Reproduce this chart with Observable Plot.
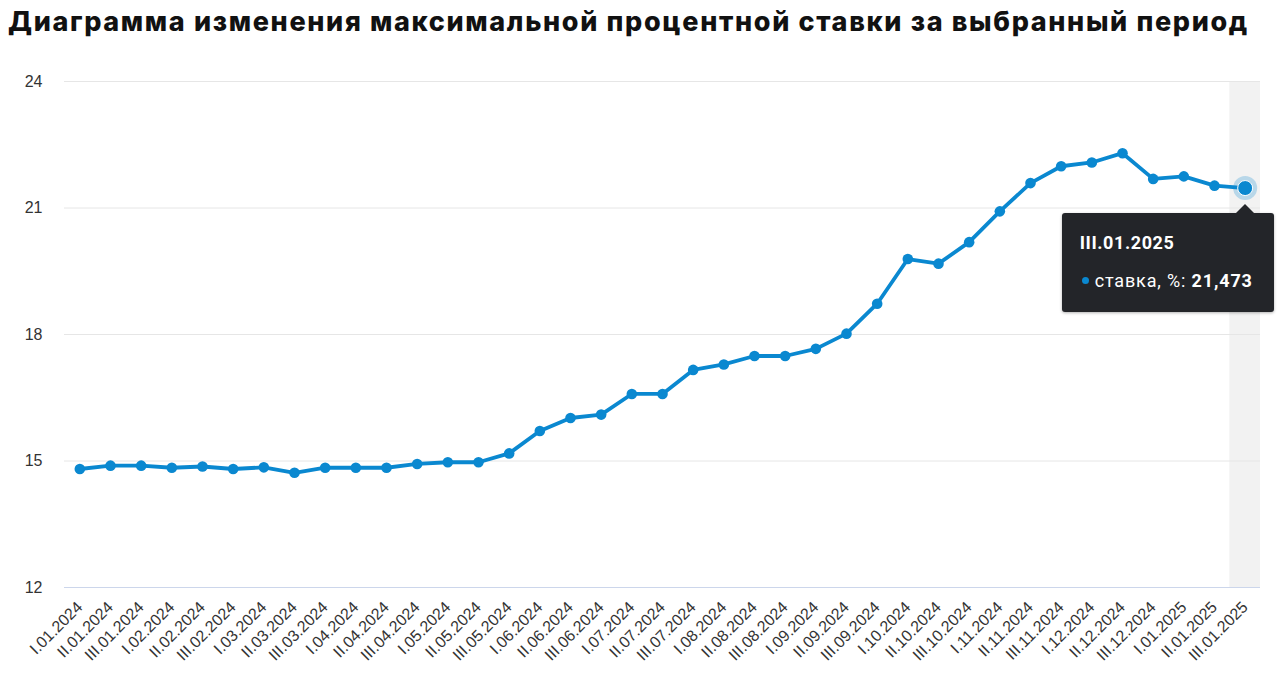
<!DOCTYPE html>
<html><head><meta charset="utf-8">
<script src="https://cdn.jsdelivr.net/npm/d3@7"></script>
<script src="https://cdn.jsdelivr.net/npm/@observablehq/plot@0.6"></script>
<style>
body{margin:0;background:#fff;font-family:"Liberation Sans",Arial,sans-serif;}
#title{height:45px;line-height:44px;padding-left:8px;font-family:Inter,Roboto,sans-serif;font-weight:800;font-size:27px;color:#111;white-space:nowrap;letter-spacing:1.65px}
#wrap{position:relative;width:1280px;height:645px}
#tip{position:absolute;width:212px;height:99px;background:#232529;border-radius:3px;color:#fff;font-family:Roboto,"Noto Sans",sans-serif;box-shadow:0 1px 3px rgba(0,0,0,0.3)}
#tip .arrow{position:absolute;top:-9px;width:0;height:0;border-left:9px solid transparent;border-right:9px solid transparent;border-bottom:9px solid #232529}
#tip .t1{position:absolute;left:18px;top:20px;font-size:18px;font-weight:700;line-height:20px;letter-spacing:0.6px}
#tip .t2{position:absolute;left:20px;top:58px;font-size:18px;line-height:20px;white-space:nowrap;letter-spacing:0.85px}
#tip .dot{display:inline-block;width:7px;height:7px;border-radius:50%;margin-right:6px;vertical-align:3px}
</style></head><body>
<div id="title">Диаграмма изменения максимальной процентной ставки за выбранный период</div>
<div id="wrap"></div>
<script>
const periods = [
  "I.01.2024","II.01.2024","III.01.2024","I.02.2024","II.02.2024","III.02.2024",
  "I.03.2024","II.03.2024","III.03.2024","I.04.2024","II.04.2024","III.04.2024",
  "I.05.2024","II.05.2024","III.05.2024","I.06.2024","II.06.2024","III.06.2024",
  "I.07.2024","II.07.2024","III.07.2024","I.08.2024","II.08.2024","III.08.2024",
  "I.09.2024","II.09.2024","III.09.2024","I.10.2024","II.10.2024","III.10.2024",
  "I.11.2024","II.11.2024","III.11.2024","I.12.2024","II.12.2024","III.12.2024",
  "I.01.2025","II.01.2025","III.01.2025"
];
const rates = [
  14.81,14.89,14.89,14.84,14.87,14.81,
  14.85,14.72,14.84,14.84,14.84,14.93,
  14.97,14.97,15.18,15.71,16.02,16.10,
  16.59,16.59,17.16,17.29,17.49,17.49,
  17.66,18.02,18.73,19.79,19.68,20.19,
  20.92,21.59,21.99,22.08,22.30,21.69,
  21.75,21.53,21.473
];
const yTicks = [12,15,18,21,24];
const seriesName = "ставка, %";
const blue = "#0a88d0";

const data = periods.map((p,i)=>({period:p, rate:rates[i]}));
const last = data[data.length-1];

const plot = Plot.plot({
  width:1280, height:645,
  marginLeft:64, marginRight:20, marginTop:36, marginBottom:103,
  x:{type:"band", domain:periods, padding:0, round:false, label:null},
  y:{domain:[yTicks[0], yTicks[yTicks.length-1]], label:null},
  style:{fontFamily:"'Liberation Sans',Arial,sans-serif", color:"#333", background:"transparent", overflow:"visible"},
  marks:[
    Plot.barY([last], {x:"period", y1:()=>yTicks[0], y2:()=>yTicks[yTicks.length-1], fill:"#f2f2f2"}),
    Plot.gridY(yTicks, {stroke:"#e6e6e6", strokeOpacity:1}),
    Plot.ruleY([yTicks[0]], {stroke:"#ccd6eb"}),
    Plot.axisY(yTicks, {tickSize:0, tickPadding:22, fontSize:16, label:null}),
    Plot.axisX({tickSize:0, tickRotate:-45, tickPadding:17, fontSize:16, label:null}),
    Plot.line(data, {x:"period", y:"rate", stroke:blue, strokeWidth:3.8, strokeLinejoin:"round"}),
    Plot.dot(data, {x:"period", y:"rate", fill:blue, r:5.3}),
    Plot.dot([last], {x:"period", y:"rate", fill:blue, fillOpacity:0.25, r:12}),
    Plot.dot([last], {x:"period", y:"rate", fill:blue, stroke:"#fff", strokeWidth:1, r:7.5})
  ]
});
const wrap = document.getElementById("wrap");
wrap.appendChild(plot);

const xs = plot.scale("x"), ys = plot.scale("y");
const px = xs.apply(last.period) + xs.bandwidth/2;
const py = ys.apply(last.rate);
const tip = document.createElement("div");
tip.id = "tip";
tip.style.left = (px - 183) + "px";
tip.style.top = (py + 25) + "px";
tip.innerHTML = `<div class="arrow" style="left:${183-9}px"></div>
<div class="t1">${last.period}</div>
<div class="t2"><span class="dot" style="background:${blue}"></span>${seriesName}: <b>${String(last.rate).replace(".", ",")}</b></div>`;
wrap.appendChild(tip);
</script>
</body></html>
